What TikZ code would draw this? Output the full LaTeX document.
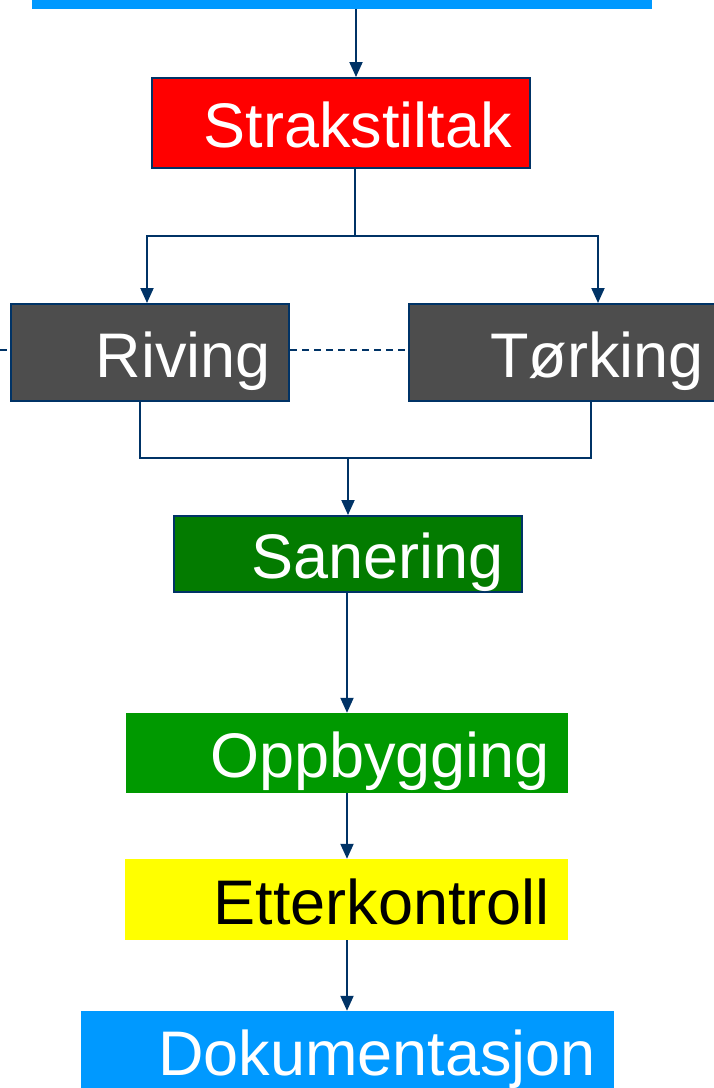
\documentclass[tikz,border=0pt]{standalone}
\usepackage{fontspec}
\setmainfont{Liberation Sans}
\usetikzlibrary{arrows.meta}
\definecolor{navy}{HTML}{003366}
\definecolor{skyblue}{HTML}{0099FF}
\definecolor{darkgray}{HTML}{4D4D4D}
\definecolor{darkgreen}{HTML}{037B00}
\definecolor{midgreen}{HTML}{009900}
\definecolor{brightyellow}{HTML}{FFFF00}
\begin{document}
\begin{tikzpicture}[x=1pt,y=-1pt,
  box/.style={rectangle, inner xsep=18pt, inner ysep=0pt, align=right,
    text height=49pt, text depth=0pt, font=\fontsize{63}{70}\selectfont, text=white},
  bordered/.style={draw=navy, line width=2pt},
  ln/.style={draw=navy, line width=2pt},
  arr/.style={draw=navy, line width=2pt, -{Triangle[length=15pt,width=13pt]}},
  dsh/.style={draw=navy, line width=2pt, dash pattern=on 7pt off 5pt}]
\useasboundingbox (0,0) rectangle (714,1088);

% boxes
\node[rectangle, fill=skyblue, inner sep=0pt, minimum width=620pt, minimum height=14pt] (topbar) at (342,2) {};
\node[box, fill=red, bordered, minimum width=378pt, minimum height=90pt, text width=342pt] (strak) at (341,123) {Strakstiltak};
\node[box, fill=darkgray, bordered, minimum width=278pt, minimum height=97pt, text width=242pt] (riving) at (150,352.5) {Riving};
\node[box, fill=darkgray, bordered, minimum width=313pt, minimum height=97pt, text width=277pt] (torking) at (565.5,352.5) {Tørking};
\node[box, fill=darkgreen, bordered, minimum width=348pt, minimum height=76pt, text width=312pt] (sanering) at (348,554) {Sanering};
\node[box, fill=midgreen, minimum width=442pt, minimum height=80pt, text width=406pt] (opp) at (347,753) {Oppbygging};
\node[box, fill=brightyellow, text=black, minimum width=443pt, minimum height=81pt, text width=407pt] (etter) at (346.5,899.5) {Etterkontroll};
\node[box, fill=skyblue, minimum width=533pt, minimum height=79pt, text width=497pt] (doku) at (347.5,1050.5) {Dokumentasjon};

% helper coordinates
\coordinate (xa) at (356,0);
\coordinate (xb) at (355,236);
\coordinate (xl) at (147,236);
\coordinate (xr) at (598,236);
\coordinate (ml) at (140,458);
\coordinate (mr) at (591,458);
\coordinate (mc) at (348,458);
\coordinate (xc) at (347,0);
\coordinate (dl) at (0,350);

% connectors
\draw[arr] (topbar.south -| xa) -- (strak.north -| xa);
\draw[ln] (strak.south -| xb) -- (xb);
\draw[arr] (xb) -- (xl) -- (riving.north -| xl);
\draw[arr] (xb) -- (xr) -- (torking.north -| xr);
\draw[ln] (riving.south -| ml) -- (ml) -- (mr) -- (torking.south -| mr);
\draw[arr] (mc) -- (sanering.north -| mc);
\draw[arr] (sanering.south -| xc) -- (opp.north -| xc);
\draw[arr] (opp.south -| xc) -- (etter.north -| xc);
\draw[arr] (etter.south -| xc) -- (doku.north -| xc);
\draw[dsh] (dl) -- (riving.west |- dl);
\draw[dsh] (riving.east |- dl) -- (torking.west |- dl);
\end{tikzpicture}
\end{document}
